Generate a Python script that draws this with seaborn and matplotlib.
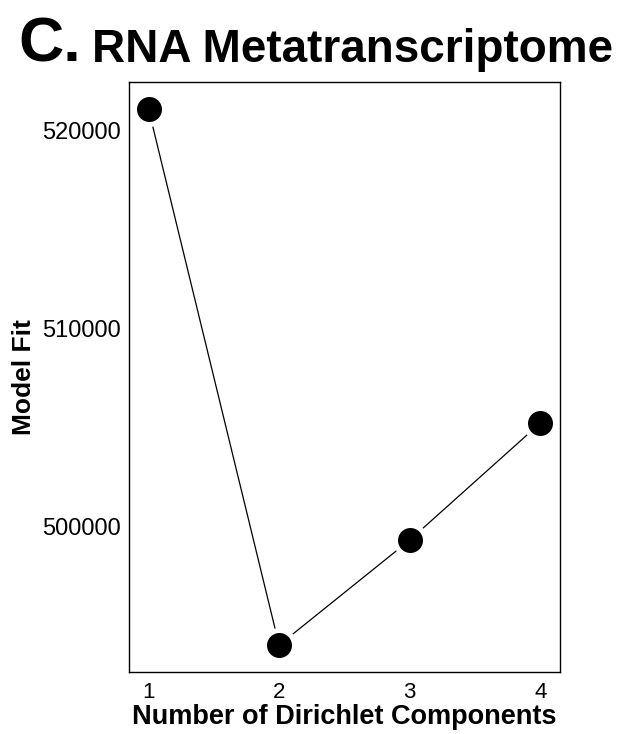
import numpy as np
import pandas as pd
import matplotlib
matplotlib.use("Agg")
import matplotlib.pyplot as plt
import seaborn as sns

# values
components = [1, 2, 3, 4]
model_fit = [521100, 493980, 499290, 505210]
y_ticks = [500000, 510000, 520000]

df = pd.DataFrame({"components": components, "fit": model_fit})

sns.set_style("white")
plt.rcParams["font.family"] = ["Liberation Sans", "DejaVu Sans"]
plt.rcParams["text.color"] = "black"
plt.rcParams["axes.labelcolor"] = "black"
plt.rcParams["xtick.color"] = "black"
plt.rcParams["ytick.color"] = "black"

fig = plt.figure(figsize=(6.29, 7.34), dpi=100)
ax = fig.add_axes([0.205, 0.0845, 0.685, 0.8035])

# line with a white ring around each point, like R's type="b"
sns.lineplot(data=df, x="components", y="fit", ax=ax, color="black",
             linewidth=0.9, marker="o", markersize=21.6,
             markerfacecolor="black", markeredgecolor="white",
             markeredgewidth=3.6)

ax.set_xlim(0.85, 4.15)
ax.set_ylim(492620, 522460)
ax.set_xticks(components)
ax.set_yticks(y_ticks)
ax.set_xticklabels([str(c) for c in components], fontsize=16)
ax.set_yticklabels([str(v) for v in y_ticks], fontsize=17)
ax.tick_params(axis="x", length=0, pad=7)
ax.tick_params(axis="y", length=0, pad=6)

for s in ax.spines.values():
    s.set_color("black")
    s.set_linewidth(1.0)

ax.set_xlabel("Number of Dirichlet Components", fontsize=19.5,
              fontweight="bold", labelpad=1)
ax.set_ylabel("Model Fit", fontsize=19, fontweight="bold", labelpad=4)

fig.text(0.030, 0.916, "C.", fontsize=45, fontweight="bold", va="baseline")
fig.text(0.146, 0.916, "RNA Metatranscriptome", fontsize=33,
         fontweight="bold", va="baseline")

fig.savefig("out.png", dpi=100)
